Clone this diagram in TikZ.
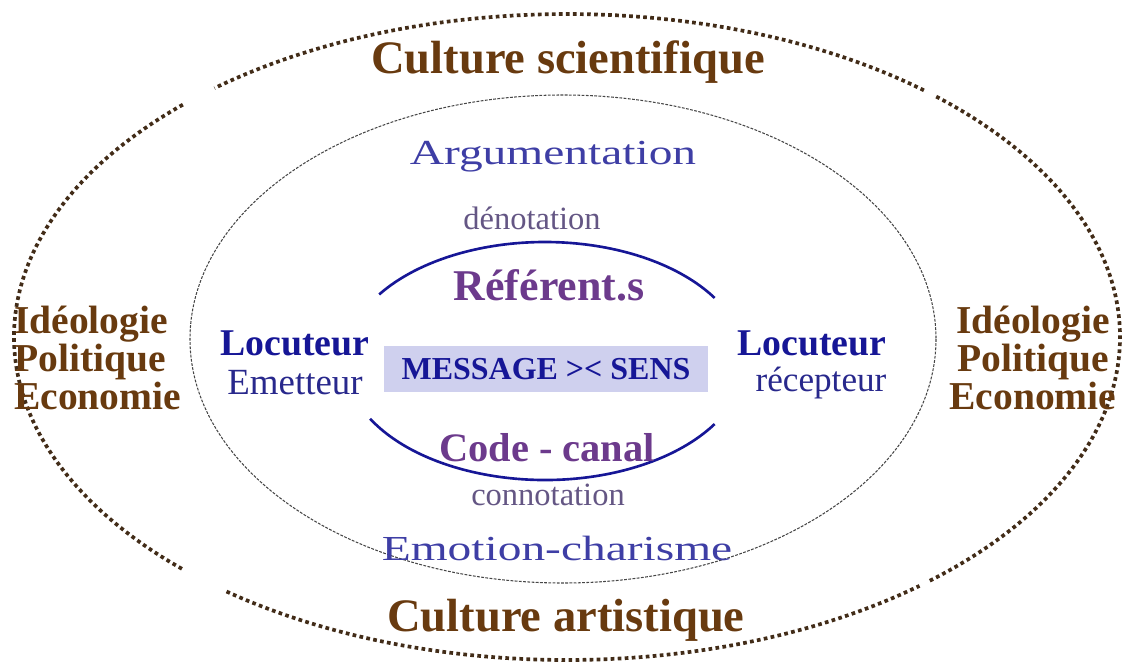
\documentclass[tikz,border=0pt]{standalone}
\usepackage{fontspec}
\setmainfont{Liberation Serif}
\newfontfamily\decofont[FakeStretch=1.35]{Liberation Serif}
\definecolor{cultbrown}{RGB}{104,58,15}
\definecolor{dotbrown}{RGB}{66,44,24}
\definecolor{locblue}{RGB}{22,22,150}
\definecolor{roleblue}{RGB}{40,40,140}
\definecolor{decoblue}{RGB}{62,62,165}
\definecolor{polepurple}{RGB}{108,58,140}
\definecolor{signpurple}{RGB}{100,86,132}
\definecolor{msgfill}{RGB}{207,208,238}

\begin{document}
\begin{tikzpicture}
[x=0.02cm,y=-0.02cm,
 culture/.style={text=cultbrown,font=\bfseries\fontsize{26.5}{28}\selectfont},
 sphere/.style={text=cultbrown,font=\bfseries\fontsize{22.5}{21.5}\selectfont},
 deco/.style={text=decoblue,font=\decofont\fontsize{20}{22}\selectfont},
 sign/.style={text=signpurple,font=\fontsize{18.5}{20}\selectfont},
 pole/.style={text=polepurple,font=\bfseries\fontsize{23}{25}\selectfont},
 speaker/.style={text=locblue,font=\bfseries\fontsize{21.5}{23}\selectfont},
 role/.style={text=roleblue,font=\fontsize{21}{23}\selectfont},
 msgbox/.style={fill=msgfill,text=locblue,minimum width=6.48cm,minimum height=0.92cm,
   font=\bfseries\fontsize{18.2}{20}\selectfont},
 outerline/.style={draw=dotbrown,line width=2.1pt,dash pattern=on 2.1pt off 1.9pt},
 innerline/.style={draw=gray!55!black,line width=0.6pt,dash pattern=on 1.6pt off 0.8pt},
 corearc/.style={draw=locblue,line width=1.5pt}]
\useasboundingbox (0,0) rectangle (1126,666);

% outer dotted ellipse, in four pieces
\coordinate (outer) at (567,337);
\draw[outerline] ([shift={(-134:553 and 323)}]outer) arc[start angle=-134,end angle=-226,x radius=553,y radius=323];
\draw[outerline] ([shift={(-232:553 and 323)}]outer) arc[start angle=-232,end angle=-309.6,x radius=553,y radius=323];
\draw[outerline] ([shift={(-311:553 and 323)}]outer) arc[start angle=-311,end angle=-408.4,x radius=553,y radius=323];
\draw[outerline] ([shift={(-49.8:553 and 323)}]outer) arc[start angle=-49.8,end angle=-129.6,x radius=553,y radius=323];

% inner dashed ellipse
\coordinate (inner) at (563,339);
\draw[innerline] (inner) ellipse [x radius=373,y radius=244];

% blue arcs round the message
\coordinate (core) at (545,361);
\draw[corearc] ([shift={(-146:200 and 119)}]core) arc[start angle=-146,end angle=-32,x radius=200,y radius=119];
\draw[corearc] ([shift={(-209:200 and 119)}]core) arc[start angle=-209,end angle=-328,x radius=200,y radius=119];

\node[msgbox] (message) at (546,369) {MESSAGE >< SENS};

\node[culture] (scientifique) at (568,62) {Culture scientifique};
\node[culture] (artistique) at (566,620) {Culture artistique};

\node[deco] (argumentation) at (553,157) {Argumentation};
\node[sign] (denotation) at (532,218) {dénotation};
\node[pole,font=\bfseries\fontsize{25}{27}\selectfont] (referent) at (549,285) {Référent.s};
\node[pole] (code) at (547,448) {Code - canal};
\node[sign] (connotation) at (548,495) {connotation};
\node[deco] (emotion) at (557,548) {Emotion-charisme};

\node[speaker] (locuteurL) at (295,343) {Locuteur};
\node[role] (emetteur) at (295,383) {Emetteur};
\node[speaker] (locuteurR) at (812,343) {Locuteur};
\node[role,font=\fontsize{20}{22}\selectfont] (recepteur) at (821,383) {récepteur};

\node[sphere,align=left,anchor=west] (sphereL) at (8,358) {Idéologie\\Politique\\Economie};
\node[sphere,align=center] (sphereR) at (1033,358) {Idéologie\\Politique\\Economie};
\end{tikzpicture}
\end{document}
